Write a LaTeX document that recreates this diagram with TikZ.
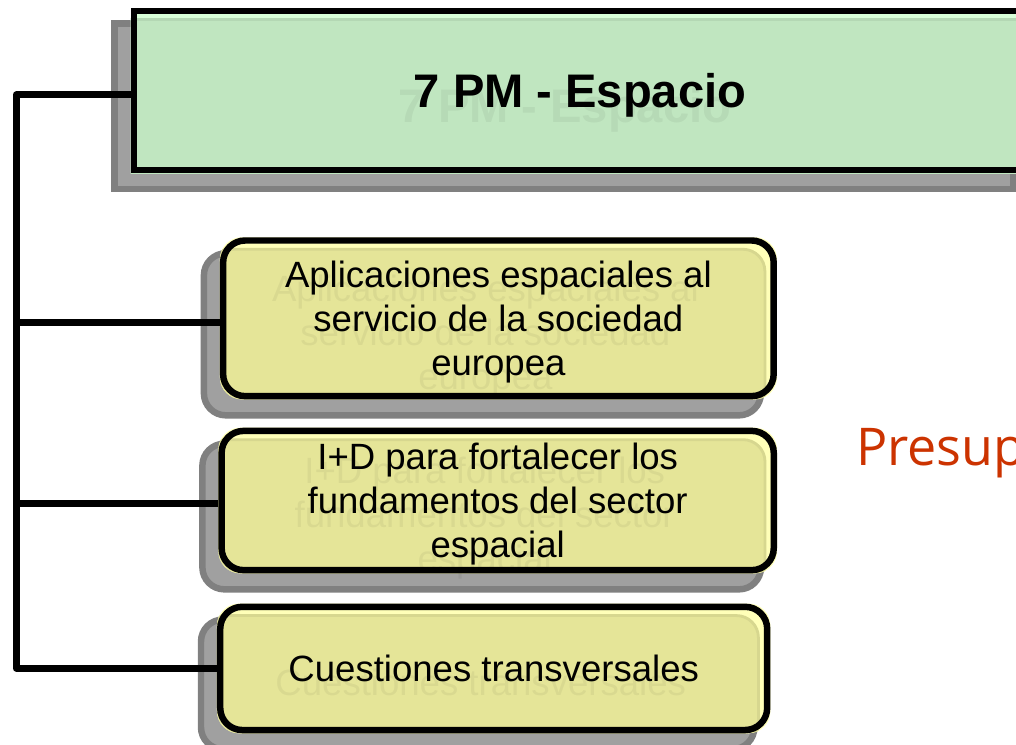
\documentclass[tikz,border=0pt]{standalone}
\usepackage{fontspec}
\setmainfont{Liberation Sans}
\newfontfamily\presfont{Open Sans}
\usepackage{tikz}
\usetikzlibrary{positioning, backgrounds, calc}
\definecolor{HeadGreen}{RGB}{192,230,192}
\definecolor{HeadGreenLight}{RGB}{216,255,216}
\definecolor{TopicYellow}{RGB}{229,229,152}
\definecolor{TopicYellowLight}{RGB}{255,255,184}
\definecolor{ShadowDark}{RGB}{128,128,128}
\definecolor{ShadowLight}{RGB}{160,160,160}
\definecolor{BudgetRed}{RGB}{204,51,0}
\tikzstyle{link} = [line width=4.6pt, black, line join=round]
\tikzstyle{headbox} = [draw, line width=4.6pt, minimum width=22.3cm, minimum height=3.98cm, text depth=0pt, font=\bfseries\fontsize{33.5}{40}\selectfont]
\tikzstyle{topic} = [draw, line width=4.6pt, rounded corners=0.55cm, align=center, text depth=0pt, font=\fontsize{26}{31.3}\selectfont]
\tikzstyle{shadowbox} = [fill=ShadowLight, draw=ShadowDark, line width=4.6pt]
\tikzstyle{ghost} = [text opacity=0.05, align=center, text depth=0pt]
\newcommand{\txtApps}{Aplicaciones espaciales al\\servicio de la sociedad\\europea}
\newcommand{\txtBase}{I+D para fortalecer los\\fundamentos del sector\\espacial}
\newcommand{\txtCross}{Cuestiones transversales}

\begin{document}
\begin{tikzpicture}[x=0.025cm, y=-0.025cm]
    \useasboundingbox (0,0) rectangle (1016,744);
    \clip (0,0) rectangle (1016,744);

    % header and topics
    \node[headbox] (title) at (580,90.4) {7 PM - Espacio};
    \node[topic, minimum width=13.76cm, minimum height=3.89cm] (t1) at (498.4,318.3) {\txtApps};
    \node[topic, minimum width=13.8cm, minimum height=3.48cm] (t2) at (497.7,500.5) {\txtBase};
    \node[topic, minimum width=13.67cm, minimum height=3.08cm] (t3) at (493.7,668.4) {\txtCross};

    \node[font=\presfont\fontsize{37}{44}\selectfont, text=BudgetRed, anchor=base west, inner sep=0pt] (budget) at (856,465) {Presup};

    % connectors
    \coordinate (spine) at (16.3,0);
    \draw[link] ([yshift=-3]title.west) -| (spine |- t3.west) -- (t3.west);
    \draw[link] ([yshift=-3]t1.west) -- ([yshift=-3]t1.west -| spine);
    \draw[link] ([yshift=-2]t2.west) -- ([yshift=-2]t2.west -| spine);

    \begin{scope}[on background layer]
        \fill[white] (0,0) rectangle (1016,744);
        % header shadow and bevel
        \draw[shadowbox] ([shift={(-16,16)}]title.south west) rectangle ([shift={(-16,16)}]title.north east);
        \fill[HeadGreenLight] (title.south west) rectangle (title.north east);
        \begin{scope}
            \clip (title.south west) rectangle (title.north east);
            \filldraw[fill=HeadGreen, draw=HeadGreen!94!black, line width=2pt] ([shift={(-12,12)}]title.south west) rectangle ([shift={(-12,12)}]title.north east);
        \end{scope}
        \node[ghost, font=\bfseries\fontsize{33.5}{40}\selectfont] (gtitle) at ([shift={(-15,15)}]title.center) {7 PM - Espacio};
        % topic shadows and bevels
        \foreach \n in {t1,t2,t3} {
            \draw[shadowbox, rounded corners=0.55cm] ([shift={(-16,16)}]\n.south west) rectangle ([shift={(-16,16)}]\n.north east);
            \fill[TopicYellowLight, rounded corners=0.55cm] (\n.south west) rectangle (\n.north east);
            \begin{scope}
                \clip[rounded corners=0.55cm] (\n.south west) rectangle (\n.north east);
                \filldraw[fill=TopicYellow, draw=TopicYellow!94!black, line width=2pt, rounded corners=0.55cm] ([shift={(-12,12)}]\n.south west) rectangle ([shift={(-12,12)}]\n.north east);
            \end{scope}
        }
        \node[ghost, font=\fontsize{26}{31.3}\selectfont] (g1) at ([shift={(-13,14)}]t1.center) {\txtApps};
        \node[ghost, font=\fontsize{26}{31.3}\selectfont] (g2) at ([shift={(-13,14)}]t2.center) {\txtBase};
        \node[ghost, font=\fontsize{26}{31.3}\selectfont] (g3) at ([shift={(-13,14)}]t3.center) {\txtCross};
    \end{scope}
\end{tikzpicture}
\end{document}
